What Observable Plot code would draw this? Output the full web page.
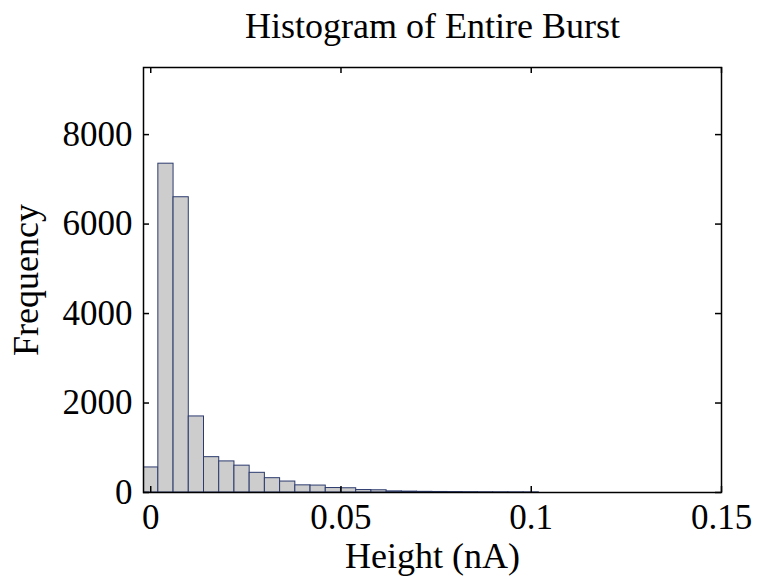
<!DOCTYPE html>
<html>
<head>
<meta charset="utf-8">
<script src="https://cdn.jsdelivr.net/npm/d3@7"></script>
<script src="https://cdn.jsdelivr.net/npm/@observablehq/plot@0.6"></script>
<style>
  html, body { margin: 0; padding: 0; background: #fff; }
</style>
</head>
<body>
<div id="chart"></div>
<script>
const titleText = "Histogram of Entire Burst";
const xLabel = "Height (nA)";
const yLabel = "Frequency";
const binCenters = [0, 0.004, 0.008, 0.012, 0.016, 0.020, 0.024, 0.028, 0.032, 0.036, 0.040, 0.044, 0.048, 0.052, 0.056, 0.060, 0.064, 0.068, 0.072, 0.076, 0.080, 0.084, 0.088, 0.092, 0.096, 0.100];
const counts = [560, 7350, 6600, 1700, 790, 695, 600, 440, 320, 245, 160, 155, 100, 95, 55, 50, 25, 20, 15, 12, 10, 8, 6, 5, 4, 3];
const binWidth = 0.004;
const xTicks = [0, 0.05, 0.1, 0.15];
const xTickLabels = ["0", "0.05", "0.1", "0.15"];
const yTicks = [0, 2000, 4000, 6000, 8000];
const yTickLabels = ["0", "2000", "4000", "6000", "8000"];

const bins = binCenters.map((c, i) => ({x1: c - binWidth / 2, x2: c + binWidth / 2, count: counts[i]}));

const W = 759, H = 583;
const mL = 143, mR = 38, mT = 67, mB = 91;
const innerH = H - mT - mB;
const innerW = W - mL - mR;
const tk = 6;

const chart = Plot.plot({
  width: W,
  height: H,
  marginLeft: mL,
  marginRight: mR,
  marginTop: mT,
  marginBottom: mB,
  style: {fontFamily: "'Liberation Serif', 'Times New Roman', serif", background: "#fff", color: "#000"},
  x: {domain: [-0.0019, 0.15]},
  y: {domain: [0, 9500]},
  marks: [
    Plot.rectY(bins, {x1: "x1", x2: "x2", y: "count", fill: "#cdcdcd", stroke: "#2c3b6e", strokeWidth: 1, clip: true}),
    Plot.frame({stroke: "#000", strokeWidth: 1.5}),
    Plot.tickX(xTicks, {x: d => d, insetTop: innerH - tk, stroke: "#000", strokeWidth: 1.5}),
    Plot.tickX(xTicks, {x: d => d, insetBottom: innerH - tk, stroke: "#000", strokeWidth: 1.5}),
    Plot.tickY(yTicks, {y: d => d, insetRight: innerW - tk, stroke: "#000", strokeWidth: 1.5}),
    Plot.tickY(yTicks, {y: d => d, insetLeft: innerW - tk, stroke: "#000", strokeWidth: 1.5}),
    Plot.axisX({ticks: xTicks, tickFormat: (d) => xTickLabels[xTicks.indexOf(d)], tickSize: 0, tickPadding: 12, fontSize: 35, label: null}),
    Plot.axisY({ticks: yTicks, tickFormat: (d) => yTickLabels[yTicks.indexOf(d)], tickSize: 0, tickPadding: 11, fontSize: 35, label: null}),
    Plot.text([titleText], {text: d => d, frameAnchor: "top", textAnchor: "middle", lineAnchor: "middle", dy: -41.5, fontSize: 36}),
    Plot.text([xLabel], {text: d => d, frameAnchor: "bottom", textAnchor: "middle", lineAnchor: "middle", dy: 63.5, fontSize: 36}),
    Plot.text([yLabel], {text: d => d, frameAnchor: "left", textAnchor: "middle", lineAnchor: "middle", dx: -117, rotate: -90, fontSize: 36})
  ]
});
document.getElementById("chart").appendChild(chart);
</script>
</body>
</html>
